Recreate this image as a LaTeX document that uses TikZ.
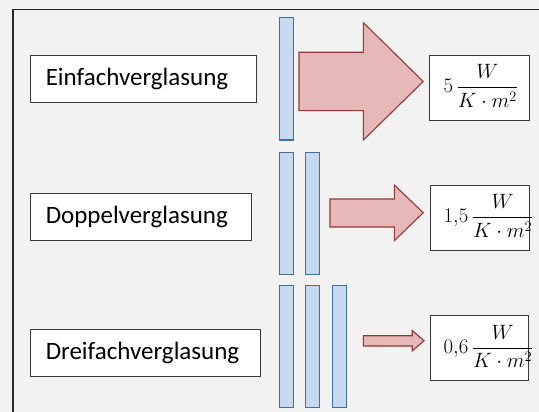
\documentclass[tikz,border=0pt]{standalone}
\usepackage{fontspec}
\setmainfont{Carlito}
\definecolor{bgcol}{HTML}{F2F2F2}
\definecolor{panefill}{HTML}{C6D9F1}
\definecolor{panedraw}{HTML}{41719C}
\definecolor{heatfill}{HTML}{E6B9B8}
\definecolor{heatdraw}{HTML}{953735}
\definecolor{framecol}{HTML}{262626}
\definecolor{boxcol}{HTML}{3A3A3A}
\tikzset{
  labelbox/.style={draw=boxcol, line width=0.9pt, fill=white, anchor=west,
    inner xsep=15pt, inner ysep=0pt, minimum height=47pt, align=left,
    font=\fontsize{25}{29}\selectfont},
  valuebox/.style={draw=boxcol, line width=0.9pt, fill=white, inner sep=0pt},
  valuetext/.style={anchor=base west, inner sep=0pt, font=\fontsize{22}{26}\selectfont},
  pane/.style={draw=panedraw, line width=1.1pt, fill=panefill, inner sep=0pt,
    minimum width=13.4pt},
  heat/.style={draw=heatdraw, line width=1.1pt, fill=heatfill, line join=miter},
}
\begin{document}
\begin{tikzpicture}[x=1pt, y=-1pt]
  % canvas and frame
  \fill[bgcol] (0,0) rectangle (539,412);
  \useasboundingbox (0,0) rectangle (539,412);
  \draw[framecol, line width=1.5pt] (539,9.5) -- (13,9.5) -- (13,412);

  % glazing labels
  \node[labelbox, text width=196pt] (einfach) at (30.3,78.8) {Einfachverglasung};
  \node[labelbox, text width=191pt] (doppel) at (30.3,216.7) {Doppelverglasung};
  \node[labelbox, text width=200pt] (dreifach) at (30.3,353.3) {Dreifachverglasung};

  % glass panes
  \node[pane, minimum height=122.3pt] (p11) at (286.5,78.85) {};
  \node[pane, minimum height=122pt] (p21) at (286.5,213.3) {};
  \node[pane, minimum height=122pt] (p22) at (312.5,213.3) {};
  \node[pane, minimum height=121.6pt] (p31) at (286.5,346.5) {};
  \node[pane, minimum height=121.6pt] (p32) at (312.5,346.5) {};
  \node[pane, minimum height=121.6pt] (p33) at (339.5,346.5) {};

  % heat flow arrows
  \draw[heat] (299,52.3) -- (363.4,52.3) -- (363.4,22.7) -- (423.2,81.5)
    -- (363.4,140) -- (363.4,110.7) -- (299,110.7) -- cycle;
  \draw[heat] (330,199) -- (394.3,199) -- (394.3,185) -- (423.2,212.7)
    -- (394.3,240.7) -- (394.3,227) -- (330,227) -- cycle;
  \draw[heat] (363.4,335.7) -- (412.2,335.7) -- (412.2,330.5) -- (424,340.7)
    -- (412.2,351) -- (412.2,346) -- (363.4,346) -- cycle;

  % U-values
  \node[valuebox, minimum width=99.6pt, minimum height=65.4pt] (u1) at (479.2,88) {};
  \node[valuebox, minimum width=99pt, minimum height=64.3pt] (u2) at (479.5,217.85) {};
  \node[valuebox, minimum width=98.4pt, minimum height=64.3pt] (u3) at (479.2,347.85) {};
  \node[valuetext] (v1) at (443.5,92.8) {$\displaystyle 5\,\frac{W}{K\cdot m^2}$};
  \node[valuetext] (v2) at (443.5,222.8) {$\displaystyle 1{,}5\,\frac{W}{K\cdot m^2}$};
  \node[valuetext] (v3) at (443.5,353.2) {$\displaystyle 0{,}6\,\frac{W}{K\cdot m^2}$};
\end{tikzpicture}
\end{document}
